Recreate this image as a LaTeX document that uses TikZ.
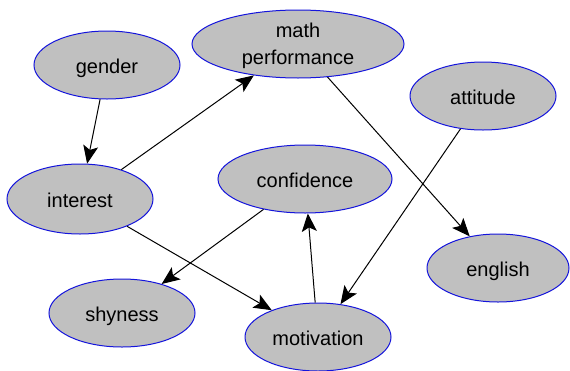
\documentclass[tikz,border=0pt]{standalone}
\usepackage{fontspec}
\setmainfont{Liberation Sans}
\usetikzlibrary{arrows.meta,shapes.geometric}
\definecolor{nodefill}{RGB}{192,192,192}
\definecolor{nodeline}{RGB}{20,20,220}
\begin{document}
\begin{tikzpicture}[x=1pt,y=-1pt,
  var/.style={ellipse, draw=nodeline, fill=nodefill, line width=1pt, inner sep=0pt,
    minimum width=146pt, minimum height=68pt, align=center,
    text height=16pt, text depth=0pt,
    font=\fontsize{20}{27}\selectfont},
  arr/.style={-{Stealth[length=18pt,width=15pt,inset=4pt]}, line width=1pt, black}]
\useasboundingbox[fill=white] (0,0) rectangle (570,370);
\node[var] (gender) at (107,65) {gender};
\node[var, minimum width=212pt, text height=42pt, text depth=2pt] (math) at (298,44) {math\\performance};
\node[var] (attitude) at (483,96) {attitude};
\node[var, minimum height=70pt] (interest) at (80,199) {interest};
\node[var, minimum width=174pt] (confidence) at (305,179) {confidence};
\node[var, minimum width=142pt] (english) at (498,268) {english};
\node[var] (shyness) at (122,313) {shyness};
\node[var] (motivation) at (318,337) {motivation};
\draw[arr] (gender) -- (interest);
\draw[arr] (interest) -- (math);
\draw[arr] (math) -- (english);
\draw[arr] (attitude) -- (motivation);
\draw[arr] (confidence) -- (shyness);
\draw[arr] (interest) -- (motivation);
\draw[arr] (motivation) -- (confidence);
\end{tikzpicture}
\end{document}
